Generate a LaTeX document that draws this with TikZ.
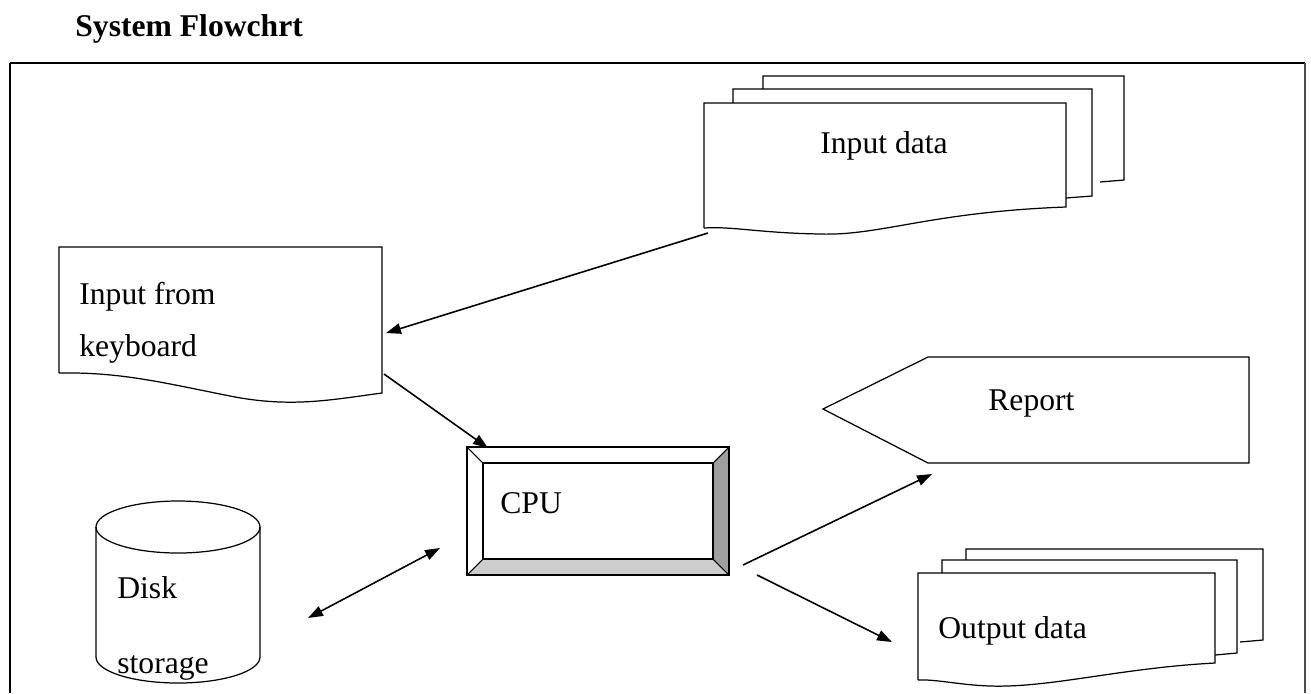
\documentclass[tikz,border=0pt]{standalone}
\usepackage{fontspec}
\setmainfont{Liberation Serif}
\usepackage{tikz}
\usetikzlibrary{arrows.meta}

\tikzset{
  txt/.style={anchor=base west, inner sep=0pt, font=\fontsize{18}{20}\selectfont},
  sheet/.style={draw, fill=white, line width=0.7pt},
  flow/.style={line width=0.9pt}
}

\begin{document}
\begin{tikzpicture}[x=0.2mm, y=-0.2mm]
\useasboundingbox (0,0) rectangle (1311,693);

\draw (75,36) node (title) [anchor=base west, inner sep=0pt, font=\bfseries\fontsize{18}{20}\selectfont] {System Flowchrt};

% frame
\draw[line width=1.5pt] (10,63) -- (1305,63);
\draw[line width=0.8pt] (10,63) -- (10,693);
\draw[line width=0.8pt, black!70] (1305,63) -- (1305,693);

% input data stack
\draw[sheet] (763,180) -- (763,76) -- (1124,76) -- (1124,180) -- (1100,182);
\draw[sheet] (733,200) -- (733,89) -- (1092,89) -- (1092,196) -- (1066,198);
\draw[sheet] (704,228) -- (704,103) -- (1066,103) -- (1066,207)
  .. controls (930,212) and (880,236) .. (820,234)
  .. controls (760,233) and (730,226) .. (704,228);
\draw (820,153) node (indata) [txt] {Input data};

% keyboard input
\draw[sheet] (59,373) -- (59,247) -- (382,247) -- (382,393)
  .. controls (330,400) and (290,408) .. (230,396)
  .. controls (160,382) and (120,372) .. (59,373);
\draw (79,304) node (kbd1) [txt] {Input from};
\draw (79,356) node (kbd2) [txt] {keyboard};

% cpu
\fill[gray!75] (713,463) -- (729,447) -- (729,575) -- (713,559) -- cycle;
\fill[gray!40] (483,559) -- (713,559) -- (729,575) -- (467,575) -- cycle;
\draw[line width=0.8pt] (467,447) rectangle (729,575);
\draw[line width=0.7pt] (483,463) rectangle (713,559);
\draw[line width=0.6pt] (467,447) -- (483,463) (729,447) -- (713,463)
  (467,575) -- (483,559) (729,575) -- (713,559);
\draw (500,513) node (cpu) [txt] {CPU};

% disk storage
\draw[line width=0.7pt] (96,527) -- (96,657) arc[start angle=180, end angle=360, x radius=82, y radius=-26] -- (260,527);
\draw[line width=0.7pt] (178,527) ellipse[x radius=82, y radius=26];
\draw (117,598) node (disk1) [txt] {Disk};
\draw (117,673) node (disk2) [txt] {storage};

% report
\draw[sheet] (823,409) -- (928,357) -- (1249,357) -- (1249,463) -- (928,463) -- cycle;
\draw (988,410) node (report) [txt] {Report};

% output data stack
\draw[sheet] (966,640) -- (966,549) -- (1263,549) -- (1263,640) -- (1240,642);
\draw[sheet] (942,655) -- (942,560) -- (1237,560) -- (1237,653) -- (1215,655);
\draw[sheet] (918,680) -- (918,573) -- (1215,573) -- (1215,663)
  .. controls (1120,668) and (1050,688) .. (990,686)
  .. controls (960,685) and (935,679) .. (918,680);
\draw (938,638) node (outdata) [txt] {Output data};

% arrow ends
\coordinate (indata-out) at (708,233);
\coordinate (kbd-in) at (386,333);
\coordinate (kbd-out) at (384,374);
\coordinate (cpu-in) at (488,448);
\coordinate (cpu-disk) at (440,548);
\coordinate (disk-io) at (308,618);
\coordinate (cpu-rep) at (743,565);
\coordinate (rep-in) at (932,474);
\coordinate (cpu-out) at (757,575);
\coordinate (out-in) at (892,642);

\draw[flow,-{Triangle[length=8.5pt,width=6pt]}] (indata-out) -- (kbd-in);
\draw[flow,-{Triangle[length=8.5pt,width=6pt]}] (kbd-out) -- (cpu-in);
\draw[flow,{Triangle[length=8.5pt,width=6pt]}-{Triangle[length=8.5pt,width=6pt]}] (cpu-disk) -- (disk-io);
\draw[flow,-{Triangle[length=8.5pt,width=6pt]}] (cpu-rep) -- (rep-in);
\draw[flow,-{Triangle[length=8.5pt,width=6pt]}] (cpu-out) -- (out-in);
\end{tikzpicture}
\end{document}
